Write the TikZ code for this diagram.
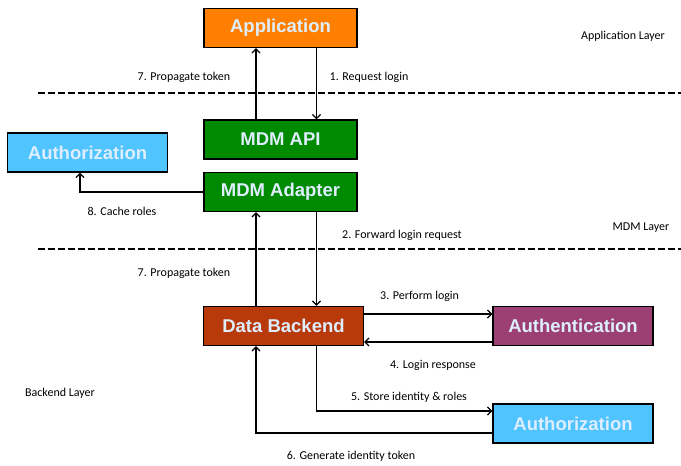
\documentclass[tikz,border=0pt]{standalone}
\usepackage{fontspec}
\setmainfont{Carlito}
\newfontfamily\boxfont{Liberation Sans}
\usetikzlibrary{arrows.meta}
\definecolor{appor}{RGB}{255,128,0}
\definecolor{mdmgreen}{RGB}{0,138,0}
\definecolor{azblue}{RGB}{80,196,255}
\definecolor{backbrown}{RGB}{184,58,10}
\definecolor{authpurple}{RGB}{156,63,114}
\definecolor{txtwhite}{RGB}{222,238,255}
\tikzset{
  boxnode/.style={draw=black, line width=1.4pt, minimum height=39pt, inner sep=0pt, text=txtwhite, font=\boxfont\bfseries\fontsize{18.5}{20}\selectfont},
  lbl/.style={font=\fontsize{12}{14}\selectfont, inner sep=0pt},
  arr/.style={line width=1.2pt, -{Straight Barb[length=4pt,width=8pt,line width=1.2pt]}},
  dashline/.style={line width=1.6pt, dash pattern=on 7pt off 3pt}
}
\begin{document}
\begin{tikzpicture}[x=1pt,y=-1pt]
\useasboundingbox (0,0) rectangle (681,466);
% boxes
\node[boxnode, fill=appor, minimum width=153pt] (app) at (280.5,28) {Application};
\node[boxnode, fill=mdmgreen, minimum width=153pt] (api) at (280.5,139.5) {MDM API};
\node[boxnode, fill=mdmgreen, minimum width=153pt] (adapter) at (280.5,192) {MDM Adapter};
\node[boxnode, fill=azblue, minimum width=160pt] (auth1) at (87.5,152.5) {Authorization};
\node[boxnode, fill=backbrown, minimum width=160pt] (backend) at (283.5,326) {Data Backend};
\node[boxnode, fill=authpurple, minimum width=160pt] (authn) at (573,326) {Authentication};
\node[boxnode, fill=azblue, minimum width=160pt] (authz2) at (573,423.5) {Authorization};
% helper coordinates
\coordinate (xl) at (256,0);
\coordinate (xr) at (316.5,0);
\coordinate (x8) at (80,0);
\coordinate (y3) at (0,314);
\coordinate (y4) at (0,342);
\coordinate (y5) at (0,411);
\coordinate (y6) at (0,433);
\coordinate (y8) at (0,192);
% dashed layer lines
\draw[dashline] (38,93) -- (681,93);
\draw[dashline] (38,249) -- (681,249);
% connectors
\draw[arr] (app.south -| xr) -- (api.north -| xr);
\draw[arr] (api.north -| xl) -- (app.south -| xl);
\draw[arr] (adapter.south -| xr) -- (backend.north -| xr);
\draw[arr] (backend.north -| xl) -- (adapter.south -| xl);
\draw[arr] (backend.east |- y3) -- (authn.west |- y3);
\draw[arr] (authn.west |- y4) -- (backend.east |- y4);
\draw[arr] (backend.south -| xr) |- (authz2.west |- y5);
\draw[arr] (authz2.west |- y6) -| (backend.south -| xl);
\draw[arr] (adapter.west |- y8) -| (auth1.south -| x8);
% labels
\node[lbl] (l7a) at (184,77) {7. Propagate token};
\node[lbl] (l1) at (369,77) {1. Request login};
\node[lbl] (lapp) at (623,36) {Application Layer};
\node[lbl] (l8) at (122,211) {8. Cache roles};
\node[lbl] (lmdm) at (641,228) {MDM Layer};
\node[lbl, anchor=west] (l2) at (342,235) {2. Forward login request};
\node[lbl] (l7b) at (184,273) {7. Propagate token};
\node[lbl, anchor=west] (l3) at (380,296) {3. Perform login};
\node[lbl] (l4) at (433,365) {4. Login response};
\node[lbl] (l5) at (409,397) {5. Store identity \& roles};
\node[lbl] (lback) at (60,393) {Backend Layer};
\node[lbl] (l6) at (351,456) {6. Generate identity token};
\end{tikzpicture}
\end{document}
